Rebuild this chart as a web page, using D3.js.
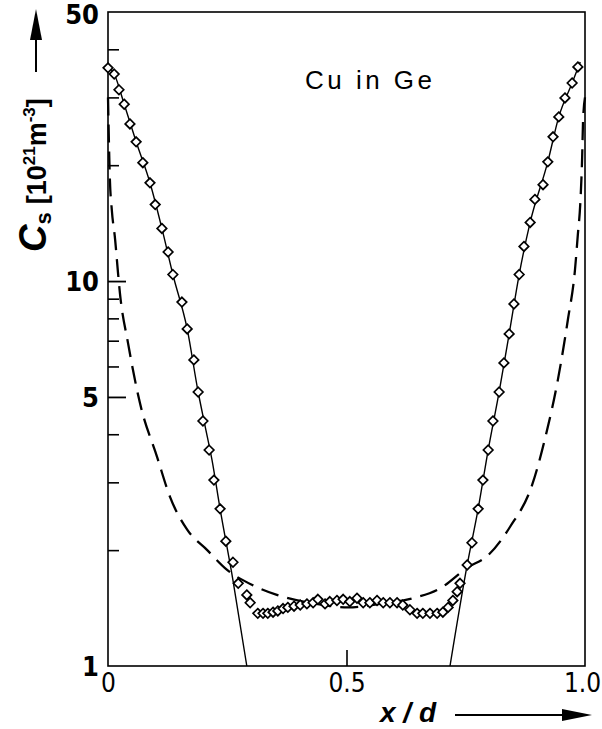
<!DOCTYPE html>
<html>
<head>
<meta charset="UTF-8">
<title>Cu in Ge</title>
<script src="https://cdn.jsdelivr.net/npm/d3@7"></script>
<style>
  body { margin: 0; background: #fff; }
  svg { display: block; }
</style>
</head>
<body>
<script>
// measured points, x/d and Cs in 10^21 m^-3
var pointX = [0.000,0.013,0.023,0.034,0.046,0.059,0.073,0.088,0.099,0.113,0.126,0.136,0.155,0.166,0.180,0.189,0.199,0.212,0.222,0.235,0.247,0.262,0.273,0.291,0.298,
  0.314,0.325,0.335,0.346,0.356,0.367,0.377,0.390,0.403,0.417,0.430,0.440,0.455,0.465,0.480,0.493,0.507,0.522,0.535,0.549,0.564,0.577,0.591,0.606,0.618,0.633,0.648,0.660,0.675,0.690,0.702,0.713,0.723,0.732,
  0.738,0.753,0.763,0.776,0.786,0.797,0.807,0.820,0.830,0.841,0.851,0.862,0.872,0.885,0.895,0.912,0.922,0.933,0.945,0.958,0.973,0.985];
var pointC = [35.8,34.5,31.4,28.8,25.6,23.0,20.3,18.0,15.8,13.7,11.9,10.4,8.82,7.51,6.24,5.15,4.33,3.64,3.04,2.56,2.11,1.86,1.64,1.53,1.46,
  1.37,1.37,1.37,1.38,1.39,1.41,1.42,1.43,1.44,1.45,1.46,1.49,1.45,1.47,1.48,1.49,1.47,1.50,1.46,1.46,1.48,1.46,1.46,1.46,1.44,1.40,1.37,1.37,1.37,1.37,1.38,1.42,1.48,1.56,
  1.64,1.83,2.09,2.56,3.04,3.64,4.33,5.15,6.13,7.29,8.72,10.4,12.3,14.2,16.3,17.8,20.4,23.7,26.7,29.9,32.7,36.0];

// solid curves (left and right branch)
var solidLeftX = [0.000,0.013,0.034,0.059,0.088,0.113,0.136,0.166,0.189,0.203,0.218,0.235,0.262,0.291];
var solidLeftC = [36.2,34.5,28.8,23.0,18.0,13.7,10.4,7.51,5.15,4.23,3.43,2.56,1.67,1.0];
var solidRightX = [0.717,0.753,0.776,0.797,0.820,0.841,0.862,0.885,0.922,0.945,0.973,0.990];
var solidRightC = [1.0,1.83,2.56,3.64,5.15,7.29,10.4,14.2,20.4,26.7,32.7,37.1];

// dashed curve
var dashX = [0.000,0.004,0.008,0.015,0.021,0.025,0.042,0.067,0.103,0.130,0.166,0.208,0.249,0.304,0.354,0.438,0.503,0.570,0.639,0.696,0.753,0.797,0.843,0.889,0.918,0.943,0.964,0.979,0.985,0.990,0.994,0.996,1.000];
var dashC = [30.0,18.3,15.3,12.8,10.5,9.31,6.90,4.82,3.49,2.75,2.26,2.00,1.78,1.62,1.53,1.45,1.42,1.45,1.50,1.59,1.80,1.94,2.30,2.95,3.98,5.53,7.92,10.7,13.2,15.8,20.9,26.2,30.0];

var yLabelTicks = [1, 5, 10, 50];
var yMajorTicks = [5, 10];
var yMinorTicks = [2, 3, 4, 6, 7, 8, 9, 20, 30, 40];
var xTicks = [0, 0.5, 1];
var xTickLabels = ["0", "0.5", "1.0"];

var W = 602, H = 729;
var pL = 108, pR = 585, pT = 12, pB = 666;
var numFont = "'Liberation Sans Narrow','DejaVu Sans Condensed','Liberation Sans',sans-serif";

var svg = d3.select("body").append("svg").attr("width", W).attr("height", H);

var x = d3.scaleLinear().domain([0, 1]).range([pL, pR]);
var y = d3.scaleLog().domain([1, 50]).range([pB, pT]);

// frame
svg.append("rect").attr("x", pL).attr("y", pT)
  .attr("width", pR - pL).attr("height", pB - pT)
  .attr("fill", "none").attr("stroke", "#000").attr("stroke-width", 1.6);

// inward y ticks
svg.append("g").attr("transform", "translate(" + pL + ",0)")
  .call(d3.axisLeft(y).tickValues(yMinorTicks).tickSizeInner(-11).tickSizeOuter(0).tickFormat(""))
  .call(function(g){ g.select(".domain").remove(); g.selectAll("line").attr("stroke-width", 1.6); });
svg.append("g").attr("transform", "translate(" + pL + ",0)")
  .call(d3.axisLeft(y).tickValues(yMajorTicks).tickSizeInner(-18).tickSizeOuter(0).tickFormat(""))
  .call(function(g){ g.select(".domain").remove(); g.selectAll("line").attr("stroke-width", 1.8); });
// y labels
svg.append("g").attr("transform", "translate(" + pL + ",0)")
  .call(d3.axisLeft(y).tickValues(yLabelTicks).tickSize(0).tickPadding(9).tickFormat(d3.format("d")))
  .call(function(g){
    g.select(".domain").remove();
    g.selectAll("text").attr("font-family", numFont).attr("font-size", 27).attr("font-weight", "bold")
      .attr("fill", "#000").attr("dy", function(d){ return d === 50 ? "0.42em" : "0.36em"; });
  });

// x ticks and labels
svg.append("g").attr("transform", "translate(0," + pB + ")")
  .call(d3.axisBottom(x).tickValues([0.5]).tickSizeInner(-16).tickSizeOuter(0).tickFormat(""))
  .call(function(g){ g.select(".domain").remove(); g.selectAll("line").attr("stroke-width", 1.6); });
svg.append("g").attr("transform", "translate(0," + pB + ")")
  .call(d3.axisBottom(x).tickValues(xTicks).tickSize(0).tickPadding(8)
    .tickFormat(function(d, i){ return xTickLabels[i]; }))
  .call(function(g){
    g.select(".domain").remove();
    g.selectAll("text").attr("font-family", numFont).attr("font-size", 26)
      .attr("fill", "#000").attr("dx", function(d){ return d === 1 ? -3 : 0; });
  });

// curves
var lineM = d3.line().curve(d3.curveMonotoneX).x(function(d){ return x(d[0]); }).y(function(d){ return y(d[1]); });

svg.append("path").datum(d3.zip(dashX, dashC)).attr("d", lineM)
  .attr("fill", "none").attr("stroke", "#000").attr("stroke-width", 2.3)
  .attr("stroke-dasharray", "18,9");

svg.append("path").datum(d3.zip(solidLeftX, solidLeftC)).attr("d", lineM)
  .attr("fill", "none").attr("stroke", "#000").attr("stroke-width", 1.4);
svg.append("path").datum(d3.zip(solidRightX, solidRightC)).attr("d", lineM)
  .attr("fill", "none").attr("stroke", "#000").attr("stroke-width", 1.4);

var diamond = d3.symbol().type(d3.symbolDiamond2).size(58);
svg.append("g").selectAll("path").data(d3.zip(pointX, pointC)).join("path")
  .attr("transform", function(d){ return "translate(" + x(d[0]) + "," + y(d[1]) + ")"; })
  .attr("d", diamond)
  .attr("fill", "#fff").attr("stroke", "#000").attr("stroke-width", 1.7);

// annotation
svg.append("text").attr("x", 305).attr("y", 89)
  .attr("font-family", "'Liberation Sans','DejaVu Sans',sans-serif").attr("font-size", 26)
  .attr("textLength", 127).attr("lengthAdjust", "spacing")
  .text("Cu in Ge");

// x title with arrow
svg.append("text").attr("x", 380).attr("y", 722)
  .attr("font-family", "'Liberation Sans','DejaVu Sans',sans-serif").attr("font-size", 28)
  .attr("font-style", "italic").attr("font-weight", "bold").text("x / d");
svg.append("line").attr("x1", 455).attr("x2", 570).attr("y1", 715).attr("y2", 715)
  .attr("stroke", "#000").attr("stroke-width", 2);
svg.append("path").attr("d", "M592,715 L562,709 L562,721 Z").attr("fill", "#000");

// y title with arrow (rotated)
var yt = svg.append("text").attr("transform", "translate(46,252) rotate(-90)")
  .attr("font-family", "'Liberation Sans','DejaVu Sans',sans-serif").attr("fill", "#000")
  .attr("font-weight", "bold");
yt.append("tspan").attr("font-size", 38).attr("font-style", "italic").text("C");
yt.append("tspan").attr("font-size", 22).attr("dy", 5).text("s");
yt.append("tspan").attr("font-size", 27).attr("dy", -5).attr("dx", 8).text("[10");
yt.append("tspan").attr("font-size", 17).attr("dy", -11).text("21");
yt.append("tspan").attr("font-size", 27).attr("dy", 11).text("m");
yt.append("tspan").attr("font-size", 17).attr("dy", -11).text("-3");
yt.append("tspan").attr("font-size", 27).attr("dy", 11).text("]");
svg.append("line").attr("x1", 36).attr("x2", 36).attr("y1", 72).attr("y2", 32)
  .attr("stroke", "#000").attr("stroke-width", 2);
svg.append("path").attr("d", "M36,9 L30,40 L42,40 Z").attr("fill", "#000");
</script>
</body>
</html>
